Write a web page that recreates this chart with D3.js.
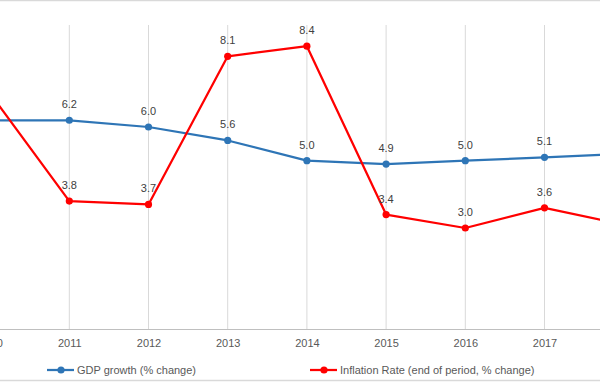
<!DOCTYPE html>
<html>
<head>
<meta charset="utf-8">
<script src="https://cdn.jsdelivr.net/npm/d3@7/dist/d3.min.js"></script>
<style>
  html, body { margin: 0; padding: 0; background: #fff; }
  svg { display: block; font-family: "Liberation Sans", Arial, sans-serif; }
</style>
</head>
<body>
<svg id="chart" width="600" height="382"></svg>
<script>
const years = ["2010", "2011", "2012", "2013", "2014", "2015", "2016", "2017", "2018"];
const gdpGrowth = [6.2, 6.2, 6.0, 5.6, 5.0, 4.9, 5.0, 5.1, 5.2];
const inflationRate = [7.0, 3.8, 3.7, 8.1, 8.4, 3.4, 3.0, 3.6, 3.1];
const seriesNames = ["GDP growth (% change)", "Inflation Rate (end of period, % change)"];
const seriesColors = ["#2E75B6", "#FF0000"];

const W = 600, H = 382;
const svg = d3.select("#chart");

// Chart is a crop of a wider Excel chart: 2010 and 2018 fall just outside.
const step = 79.2;
const x = d3.scalePoint().domain(years).range([69.3 - step, 69.3 + 7 * step]);
const y = d3.scaleLinear().domain([0, 9]).range([329, 26]);

// outer border lines (top and bottom of chart area)
svg.append("line").attr("x1", 0).attr("x2", W).attr("y1", 0.5).attr("y2", 0.5)
  .attr("stroke", "#d9d9d9").attr("stroke-width", 1.5);
svg.append("line").attr("x1", 0).attr("x2", W).attr("y1", 380.5).attr("y2", 380.5)
  .attr("stroke", "#d9d9d9").attr("stroke-width", 1.5);

// vertical gridlines
svg.append("g").selectAll("line").data(years).join("line")
  .attr("x1", d => x(d)).attr("x2", d => x(d))
  .attr("y1", y(0)).attr("y2", 25)
  .attr("stroke", "#d9d9d9").attr("stroke-width", 1);

// x axis
const xAxis = d3.axisBottom(x).tickSize(0).tickPadding(10);
const gx = svg.append("g").attr("transform", `translate(0,${y(0)})`).call(xAxis);
gx.select(".domain").remove();
gx.selectAll("text").attr("fill", "#595959").attr("font-size", "11px")
  .attr("font-family", "'Liberation Sans', Arial, sans-serif");
svg.append("line").attr("x1", 0).attr("x2", W).attr("y1", y(0) + 0.5).attr("y2", y(0) + 0.5)
  .attr("stroke", "#bfbfbf").attr("stroke-width", 1);

const series = [gdpGrowth, inflationRate];
const line = d3.line().x((d, i) => x(years[i])).y(d => y(d));

series.forEach((vals, s) => {
  const g = svg.append("g");
  g.append("path").datum(vals).attr("d", line)
    .attr("fill", "none").attr("stroke", seriesColors[s]).attr("stroke-width", 2.25)
    .attr("stroke-linejoin", "round");
  g.selectAll("circle").data(vals).join("circle")
    .attr("cx", (d, i) => x(years[i])).attr("cy", d => y(d)).attr("r", 3.6)
    .attr("fill", seriesColors[s]);
});

// data labels (only for points inside the visible crop)
series.forEach((vals, s) => {
  const pts = vals.map((v, i) => ({ v, yr: years[i] }))
    .filter(p => x(p.yr) > 0 && x(p.yr) < W);
  svg.append("g").selectAll("text").data(pts).join("text")
    .attr("x", p => x(p.yr)).attr("y", p => y(p.v) - 12)
    .attr("text-anchor", "middle").attr("font-size", "11px").attr("fill", "#404040")
    .text(p => d3.format(".1f")(p.v));
});

// legend
const legendX = [47, 310];
seriesNames.forEach((name, s) => {
  const g = svg.append("g").attr("transform", `translate(${legendX[s]},370)`);
  g.append("line").attr("x1", 0).attr("x2", 27).attr("y1", 0).attr("y2", 0)
    .attr("stroke", seriesColors[s]).attr("stroke-width", 2.25);
  g.append("circle").attr("cx", 14).attr("cy", 0).attr("r", 3.6).attr("fill", seriesColors[s]);
  g.append("text").attr("x", 30).attr("y", 0).attr("dy", "0.35em")
    .attr("font-size", "11px").attr("fill", "#595959").text(name);
});
</script>
</body>
</html>
